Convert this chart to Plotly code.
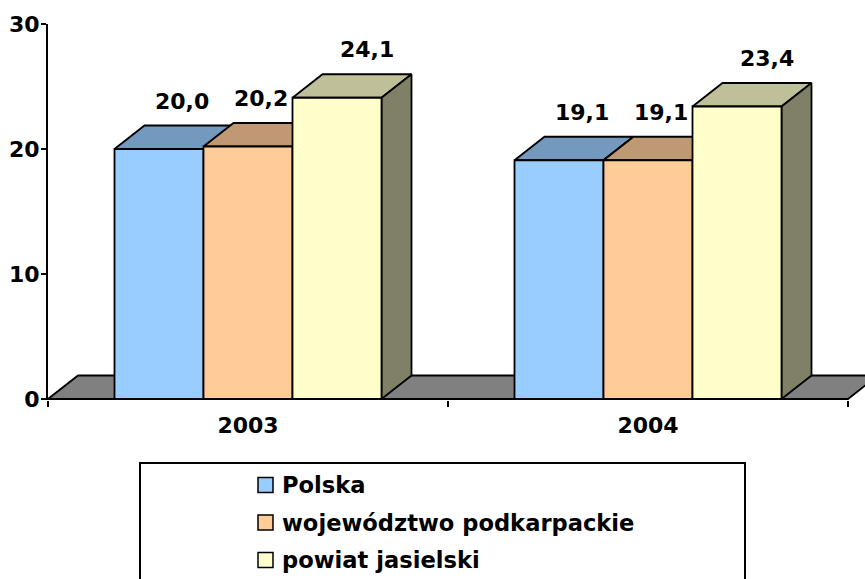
import plotly.graph_objects as go

# ---------------- data ----------------
categories = ["2003", "2004"]
series_names = ["Polska", "województwo podkarpackie", "powiat jasielski"]
polska = [20.0, 19.1]
wojewodztwo = [20.2, 19.1]
powiat = [24.1, 23.4]
y_ticks = [0, 10, 20, 30]

series_values = [polska, wojewodztwo, powiat]

# ---------------- style ----------------
front_colors = ["#99CCFF", "#FFCC99", "#FFFFCC"]
top_colors = ["#7399BF", "#BF9973", "#BFBF99"]
side_colors = ["#4D6680", "#806650", "#808066"]
floor_color = "#808080"
FONT = "DejaVu Sans"
FS = 22
FS_LEG = 22.6

W, H = 865, 579
L, R, T, B = 48, 0, 24, 179
plot_w = W - L - R
plot_h = H - T - B
X_PX = 400.0          # pixels per category
Y_PX = 12.5           # pixels per value unit
Y_MAX = 30
x_range = [-0.5, -0.5 + plot_w / X_PX]
y_range = [Y_MAX - plot_h / Y_PX, Y_MAX]

bar_w = 89 / X_PX
dx = 30 / X_PX
dy = 23.5 / Y_PX
label_dx_px = [23, 13, 30]
EDGE = 1.8


def px(p):
    return (p - L) / plot_w


def py(p):
    return (H - B - p) / plot_h


fig = go.Figure()


def poly(pts, fill):
    xs = [p[0] for p in pts] + [pts[0][0]]
    ys = [p[1] for p in pts] + [pts[0][1]]
    fig.add_trace(go.Scatter(
        x=xs, y=ys, mode="lines", fill="toself", fillcolor=fill,
        line=dict(color="black", width=EDGE), hoverinfo="skip",
        showlegend=False))


# floor
fx0, fx1 = -0.5, len(categories) - 0.5
poly([(fx0, 0), (fx1, 0), (fx1 + dx, dy), (fx0 + dx, dy)], floor_color)

annotations = []
for ci, cat in enumerate(categories):
    for si, vals in enumerate(series_values):
        v = vals[ci]
        left = ci - 1.5 * bar_w + si * bar_w
        right = left + bar_w
        poly([(left, v), (right, v), (right + dx, v + dy), (left + dx, v + dy)], top_colors[si])
        poly([(right, 0), (right + dx, dy), (right + dx, v + dy), (right, v)], side_colors[si])
        poly([(left, 0), (right, 0), (right, v), (left, v)], front_colors[si])
        annotations.append(dict(
            x=(left + right) / 2 + label_dx_px[si] / X_PX, y=v + dy,
            xref="x", yref="y", text=f"{v:.1f}".replace(".", ","),
            showarrow=False, yanchor="bottom", xanchor="center", yshift=10,
            font=dict(family=FONT, size=FS, color="black", weight="bold")))

# legend (custom box)
shapes = [dict(type="rect", xref="paper", yref="paper",
               x0=px(140), x1=px(745), y0=py(463), y1=py(600),
               line=dict(color="black", width=2), fillcolor="white", layer="below")]
row_y = [485, 522.5, 560]
for si, name in enumerate(series_names):
    cy = row_y[si]
    shapes.append(dict(type="rect", xref="paper", yref="paper",
                       x0=px(258), x1=px(273), y0=py(cy - 7.5), y1=py(cy + 7.5),
                       line=dict(color="black", width=1.5), fillcolor=front_colors[si]))
    annotations.append(dict(
        x=px(280), y=py(cy), xref="paper", yref="paper", text=name,
        showarrow=False, xanchor="left", yanchor="middle",
        font=dict(family=FONT, size=FS_LEG, color="black", weight="bold")))

fig.update_layout(
    width=W, height=H,
    margin=dict(l=L, r=R, t=T, b=B, pad=0),
    paper_bgcolor="white", plot_bgcolor="white",
    showlegend=False,
    shapes=shapes,
    annotations=annotations,
    xaxis=dict(
        range=x_range, showgrid=False, zeroline=False, showline=False,
        automargin=False,
        tickvals=list(range(len(categories))), ticktext=categories,
        ticks="", ticklabelstandoff=10,
        tickfont=dict(family=FONT, size=FS, color="black", weight="bold"),
        minor=dict(tickvals=[-0.5 + i for i in range(len(categories) + 1)],
                   ticks="outside", ticklen=6, tickwidth=2, tickcolor="black"),
    ),
    yaxis=dict(
        range=y_range, showgrid=False, zeroline=False, automargin=False,
        showline=True, linecolor="black", linewidth=2,
        tickvals=y_ticks, ticks="outside", ticklen=5, tickwidth=2, tickcolor="black",
        ticklabelstandoff=-3,
        tickfont=dict(family=FONT, size=FS, color="black", weight="bold"),
    ),
)

fig.write_html("out.html",
               config={"displayModeBar": False},
               post_script="document.body.style.margin='0';document.body.style.overflow='hidden';")
